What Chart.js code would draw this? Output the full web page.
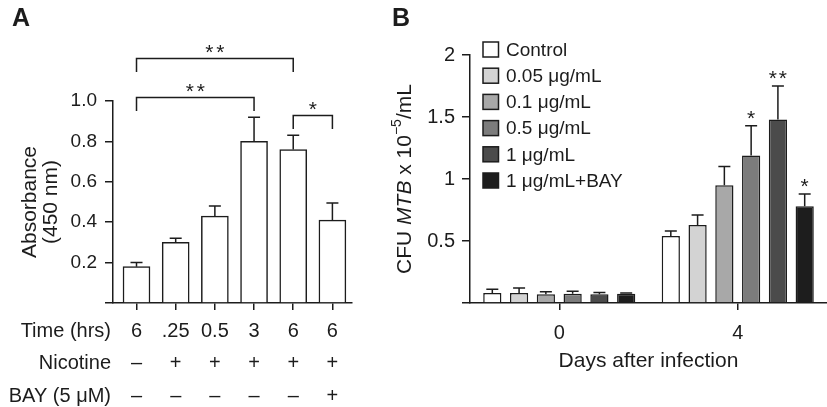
<!DOCTYPE html>
<html><head><meta charset="utf-8">
<script src="https://cdn.jsdelivr.net/npm/chart.js@4/dist/chart.umd.min.js"></script>
<style>
html,body{margin:0;padding:0;background:#fff;width:827px;height:407px;overflow:hidden}
canvas{position:absolute;top:0}
#ca{left:0}
#cb{left:380px}
</style></head><body>
<canvas id="ca" width="400" height="407"></canvas>
<canvas id="cb" width="447" height="407"></canvas>
<script>
// ---------- Panel A data ----------
const timeLabels = ['6', '.25', '0.5', '3', '6', '6'];
const nicotineRow = ['–', '+', '+', '+', '+', '+'];
const bayRow = ['–', '–', '–', '–', '–', '+'];
const rowTitles = ['Time (hrs)', 'Nicotine', 'BAY (5 μM)'];
const absorbance = [0.18, 0.30, 0.43, 0.80, 0.76, 0.41];
const absorbanceErr = [0.02, 0.02, 0.05, 0.12, 0.07, 0.085];
const yTicksA = [0, 0.2, 0.4, 0.6, 0.8, 1.0];
const comparisonsA = [[0, 4, '**'], [0, 3, '**'], [4, 5, '*']];

// ---------- Panel B data ----------
const days = ['0', '4'];
const seriesNames = ['Control', '0.05 μg/mL', '0.1 μg/mL', '0.5 μg/mL', '1 μg/mL', '1 μg/mL+BAY'];
const cfuControl = [0.08, 0.54];
const cfu005 = [0.08, 0.63];
const cfu01 = [0.07, 0.95];
const cfu05 = [0.075, 1.19];
const cfu1 = [0.07, 1.48];
const cfu1Bay = [0.075, 0.78];
const errControl = [0.03, 0.04];
const err005 = [0.04, 0.08];
const err01 = [0.02, 0.15];
const err05 = [0.02, 0.24];
const err1 = [0.015, 0.27];
const err1Bay = [0.005, 0.10];
const starsDay4 = ['', '', '', '*', '**', '*'];
const yTicksB = [0, 0.5, 1, 1.5, 2];

// ---------- styles ----------
const FONT = '"Liberation Sans", Arial, Helvetica, sans-serif';
const INK = '#1c1c1c';
const fillsB = ['#ffffff', '#d3d3d3', '#a8a8a8', '#7c7c7c', '#4b4b4b', '#1d1d1d'];
Chart.defaults.font.family = FONT;
Chart.defaults.color = INK;

function drawStars(ctx, s, cx, cy, size, gap) {
  ctx.save();
  ctx.font = size + 'px ' + FONT;
  ctx.fillStyle = INK;
  ctx.textAlign = 'center';
  ctx.textBaseline = 'alphabetic';
  const n = s.length;
  for (let i = 0; i < n; i++) {
    const x = cx + (i - (n - 1) / 2) * gap;
    ctx.fillText('*', x, cy + 0.58 * size);
  }
  ctx.restore();
}
function errBars(chart, errs, cap) {
  const ctx = chart.ctx;
  ctx.save();
  ctx.strokeStyle = INK;
  ctx.lineWidth = 1.5;
  chart.data.datasets.forEach((ds, di) => {
    const meta = chart.getDatasetMeta(di);
    meta.data.forEach((bar, i) => {
      const v = chart.data.datasets[di].data[i];
      const val = typeof v === 'object' ? v.y : v;
      const top = chart.scales.y.getPixelForValue(val + errs[di][i]);
      const y0 = chart.scales.y.getPixelForValue(val);
      ctx.beginPath();
      ctx.moveTo(bar.x, y0);
      ctx.lineTo(bar.x, top);
      ctx.moveTo(bar.x - cap / 2, top);
      ctx.lineTo(bar.x + cap / 2, top);
      ctx.stroke();
    });
  });
  ctx.restore();
}

// ---------- Chart A ----------
const bracketLevelA = [1.21, 1.017, 0.928];
const TABLE_LH = 32.5, TABLE_TOP = 7 + 5;
const pluginA = {
  id: 'annA',
  afterDatasetsDraw(chart) { errBars(chart, [absorbanceErr], 12); },
  afterDraw(chart) {
    const ctx = chart.ctx, xs = chart.scales.x, ys = chart.scales.y;
    ctx.save();
    ctx.strokeStyle = INK; ctx.lineWidth = 1.5;
    comparisonsA.forEach((c, k) => {
      const x1 = xs.getPixelForValue(c[0]), x2 = xs.getPixelForValue(c[1]);
      const y = ys.getPixelForValue(bracketLevelA[k]);
      const drop = 13.5;
      ctx.beginPath();
      ctx.moveTo(x1, y + drop); ctx.lineTo(x1, y); ctx.lineTo(x2, y); ctx.lineTo(x2, y + drop);
      ctx.stroke();
      drawStars(ctx, c[2], (x1 + x2) / 2, y - 12, 21, 11);
    });
    // row titles of the table
    ctx.font = '20px ' + FONT;
    ctx.fillStyle = INK;
    ctx.textAlign = 'right';
    ctx.textBaseline = 'middle';
    const y0 = xs.top + TABLE_TOP + TABLE_LH / 2;
    rowTitles.forEach((t, i) => ctx.fillText(t, 111, y0 + i * TABLE_LH));
    // panel letter
    ctx.font = 'bold 25px ' + FONT;
    ctx.textAlign = 'left'; ctx.textBaseline = 'alphabetic';
    ctx.fillText('A', 12, 26);
    ctx.restore();
  }
};

new Chart(document.getElementById('ca'), {
  type: 'bar',
  data: {
    datasets: [{
      data: absorbance.map((y, i) => ({x: i, y})),
      backgroundColor: '#ffffff',
      borderColor: INK,
      borderWidth: 1.5,
      barThickness: 27
    }]
  },
  options: {
    responsive: false, animation: false, devicePixelRatio: 1,
    layout: {padding: {left: 0, right: 48, top: 101, bottom: 0}},
    plugins: {legend: {display: false}, tooltip: {enabled: false}},
    scales: {
      x: {
        type: 'linear', min: -0.6, max: 5.5, offset: false,
        afterBuildTicks: s => { s.ticks = timeLabels.map((_, i) => ({value: i})); },
        afterFit: s => { s.height = 104; s.paddingLeft = 0; s.paddingRight = 0; },
        ticks: {
          autoSkip: false, maxRotation: 0, padding: 5, color: INK,
          font: {size: 20, lineHeight: 1.625},
          callback: v => [timeLabels[v], nicotineRow[v], bayRow[v]]
        },
        grid: {offset: false, drawOnChartArea: false, tickLength: 7, color: INK, lineWidth: 1.5},
        border: {color: INK, width: 1.5}
      },
      y: {
        min: 0, max: 1.0,
        afterBuildTicks: s => { s.ticks = yTicksA.map(v => ({value: v})); },
        afterFit: s => { s.width = 113; },
        ticks: {padding: 8, color: INK, font: {size: 19},
          callback: v => v === 0 ? '' : v.toFixed(1)},
        grid: {drawOnChartArea: false, tickLength: 8, color: INK, lineWidth: 1.5},
        border: {color: INK, width: 1.5},
        title: {display: true, text: ['Absorbance', '(450 nm)'], color: INK,
          font: {size: 21, lineHeight: 1.0}, padding: {top: 20, bottom: 0}}
      }
    }
  },
  plugins: [pluginA]
});

// ---------- Chart B ----------
const cfuSeries = [cfuControl, cfu005, cfu01, cfu05, cfu1, cfu1Bay];
const errSeries = [errControl, err005, err01, err05, err1, err1Bay];

const pluginB = {
  id: 'annB',
  afterDatasetsDraw(chart) { errBars(chart, errSeries, 12); },
  afterDraw(chart) {
    const ctx = chart.ctx, ys = chart.scales.y;
    ctx.save();
    // significance stars on day 4
    starsDay4.forEach((s, di) => {
      if (!s) return;
      const bar = chart.getDatasetMeta(di).data[1];
      const top = ys.getPixelForValue(cfuSeries[di][1] + errSeries[di][1]);
      drawStars(ctx, s, bar.x, top - 13, 21, 10);
    });
    // legend
    ctx.font = '19px ' + FONT;
    ctx.textAlign = 'left'; ctx.textBaseline = 'middle';
    seriesNames.forEach((n, i) => {
      const cy = 49.5 + i * 26.2;
      ctx.fillStyle = fillsB[i];
      ctx.fillRect(103, cy - 7.5, 15.5, 15);
      ctx.strokeStyle = INK; ctx.lineWidth = 1.5;
      ctx.strokeRect(103, cy - 7.5, 15.5, 15);
      ctx.fillStyle = INK;
      ctx.fillText(n, 126, cy + 1);
    });
    // y axis title with italic and superscript
    const parts = [
      {t: 'CFU ', f: '21px ' + FONT, dy: 0},
      {t: 'MTB', f: 'italic 21px ' + FONT, dy: 0},
      {t: ' x 10', f: '21px ' + FONT, dy: 0},
      {t: '−5', f: '14px ' + FONT, dy: -8},
      {t: '/mL', f: '21px ' + FONT, dy: 0}
    ];
    let W = 0;
    parts.forEach(p => { ctx.font = p.f; p.w = ctx.measureText(p.t).width; W += p.w; });
    ctx.translate(25, (chart.chartArea.top + chart.chartArea.bottom) / 2);
    ctx.rotate(-Math.PI / 2);
    let x = -W / 2;
    ctx.fillStyle = INK;
    parts.forEach(p => { ctx.font = p.f; ctx.fillText(p.t, x, p.dy); x += p.w; });
    ctx.setTransform(1, 0, 0, 1, 0, 0);
    ctx.font = 'bold 25px ' + FONT;
    ctx.textBaseline = 'alphabetic';
    ctx.fillText('B', 12, 26);
    ctx.restore();
  }
};

new Chart(document.getElementById('cb'), {
  type: 'bar',
  data: {
    labels: days,
    datasets: seriesNames.map((n, i) => ({
      label: n,
      data: cfuSeries[i],
      backgroundColor: fillsB[i],
      borderColor: INK,
      borderWidth: 1.5,
      barPercentage: 0.68,
      categoryPercentage: 0.9
    }))
  },
  options: {
    responsive: false, animation: false, devicePixelRatio: 1,
    layout: {padding: {left: 0, right: 0, top: 55, bottom: 0}},
    plugins: {legend: {display: false}, tooltip: {enabled: false}},
    scales: {
      x: {
        afterFit: s => { s.height = 104; },
        ticks: {padding: 11, color: INK, font: {size: 20, lineHeight: 1.2}},
        grid: {offset: false, drawOnChartArea: false, tickLength: 7, color: INK, lineWidth: 1.5},
        border: {color: INK, width: 1.5},
        title: {display: true, text: 'Days after infection', color: INK,
          font: {size: 21, lineHeight: 1.2}, padding: {top: 0, bottom: 33}}
      },
      y: {
        min: 0, max: 2,
        afterBuildTicks: s => { s.ticks = yTicksB.map(v => ({value: v})); },
        afterFit: s => { s.width = 90; },
        ticks: {padding: 7, color: INK, font: {size: 20},
          callback: v => v === 0 ? '' : String(v)},
        grid: {drawOnChartArea: false, tickLength: 8, color: INK, lineWidth: 1.5},
        border: {color: INK, width: 1.5}
      }
    }
  },
  plugins: [pluginB]
});
</script>
</body></html>
